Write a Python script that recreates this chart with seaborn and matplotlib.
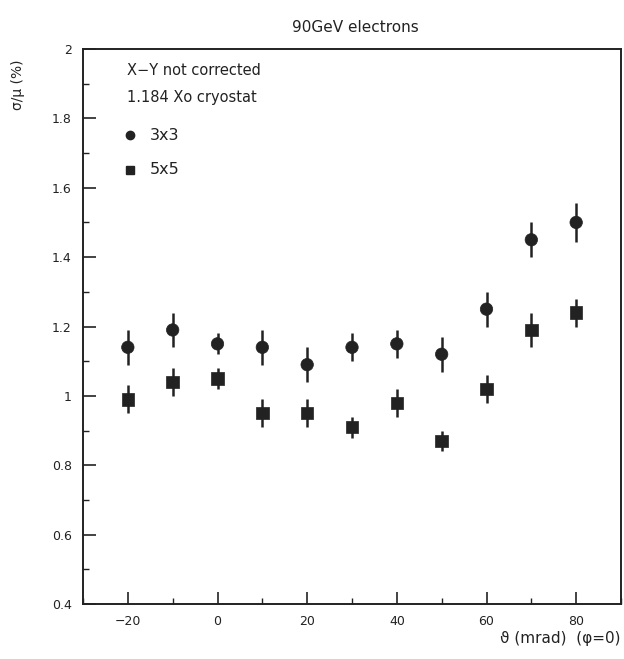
import matplotlib
matplotlib.use("Agg")
import matplotlib.pyplot as plt
import seaborn as sns
import pandas as pd
import numpy as np
from matplotlib.ticker import MultipleLocator

theta = [-20, -10, 0, 10, 20, 30, 40, 50, 60, 70, 80]
res_3x3 = [1.14, 1.19, 1.15, 1.14, 1.09, 1.14, 1.15, 1.12, 1.25, 1.45, 1.50]
err_3x3 = [0.05, 0.05, 0.03, 0.05, 0.05, 0.04, 0.04, 0.05, 0.05, 0.05, 0.055]
res_5x5 = [0.99, 1.04, 1.05, 0.95, 0.95, 0.91, 0.98, 0.87, 1.02, 1.19, 1.24]
err_5x5 = [0.04, 0.04, 0.03, 0.04, 0.04, 0.03, 0.04, 0.03, 0.04, 0.05, 0.04]

df = pd.DataFrame({
    "theta": theta * 2,
    "res": res_3x3 + res_5x5,
    "err": err_3x3 + err_5x5,
    "cluster": ["3x3"] * len(theta) + ["5x5"] * len(theta),
})

sns.set_style("white")
plt.rcParams['font.family'] = ['DejaVu Sans']

fig = plt.figure(figsize=(6.24, 6.59), dpi=100)
ax = fig.add_axes([83/624, 55/659, (621-83)/624, (604-49)/659])

col = "#222222"
for name in ["3x3", "5x5"]:
    sub = df[df.cluster == name]
    ax.errorbar(sub.theta, sub.res, yerr=sub.err, fmt="none", ecolor=col,
                elinewidth=1.8, capsize=0, zorder=2)
sns.scatterplot(data=df, x="theta", y="res", style="cluster",
                markers={"3x3": "o", "5x5": "s"}, color=col,
                s=80, edgecolor=col, linewidth=0.5, legend=False, ax=ax, zorder=3)

ax.set_xlim(-30, 90)
ax.set_ylim(0.4, 2.0)
ax.xaxis.set_major_locator(MultipleLocator(20))
ax.xaxis.set_minor_locator(MultipleLocator(10))
ax.yaxis.set_minor_locator(MultipleLocator(0.1))
ax.set_yticks([0.4, 0.6, 0.8, 1.0, 1.2, 1.4, 1.6, 1.8, 2.0])
ax.set_yticklabels(["0.4", "0.6", "0.8", "1", "1.2", "1.4", "1.6", "1.8", "2"])
ax.tick_params(which="major", direction="in", length=9, width=1.2,
               labelsize=9, colors=col, pad=8, top=False, right=False, bottom=True, left=True)
ax.tick_params(which="minor", direction="in", length=4, width=1.0,
               top=False, right=False, bottom=True, left=True, colors=col)
for s in ax.spines.values():
    s.set_color(col)
    s.set_linewidth(1.4)

ax.set_xlabel("")
ax.set_ylabel("")
fig.text(621/624, 1 - 638/659, "ϑ (mrad)  (φ=0)", ha="right", va="center",
         fontsize=11, color=col)
fig.text(18/624, 1 - 85/659, "σ/μ (%)", rotation=90, ha="center", va="center",
         fontsize=10, color=col)
fig.text(355/624, 1 - 27/659, "90GeV electrons", ha="center", va="center",
         fontsize=11, color=col)

ax.text(0.082, 0.962, "X−Y not corrected", transform=ax.transAxes, fontsize=10.5,
        color=col, va="center")
ax.text(0.082, 0.913, "1.184 Xo cryostat", transform=ax.transAxes, fontsize=10.5,
        color=col, va="center")
ax.plot([0.088], [0.845], marker="o", ls="none", color=col, markersize=6,
        transform=ax.transAxes, clip_on=False)
ax.plot([0.088], [0.782], marker="s", ls="none", color=col, markersize=6,
        transform=ax.transAxes, clip_on=False)
ax.text(0.124, 0.845, "3x3", transform=ax.transAxes, fontsize=11.5,
        color=col, va="center")
ax.text(0.124, 0.782, "5x5", transform=ax.transAxes, fontsize=11.5,
        color=col, va="center")

fig.savefig("out.png", dpi=100)
